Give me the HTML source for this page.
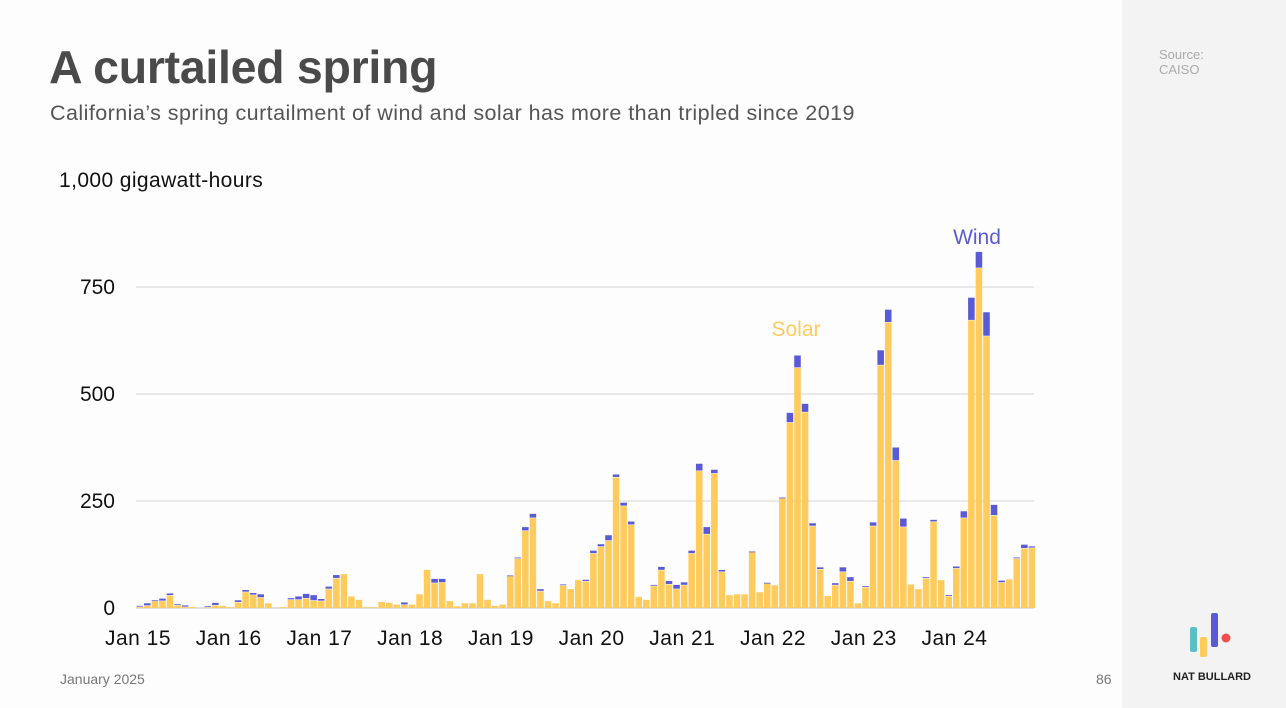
<!DOCTYPE html>
<html><head><meta charset="utf-8"><style>
body{margin:0;width:1286px;height:708px;background:#fdfdfd;font-family:"Liberation Sans",sans-serif;position:relative;overflow:hidden}
.a{position:absolute;white-space:nowrap}
</style></head><body>
<div class="a" style="left:1122px;top:0;width:164px;height:708px;background:#f3f3f3"></div>
<div class="a" style="left:49px;top:40px;font-size:46.5px;font-weight:bold;color:#4a4a4a;letter-spacing:-0.3px">A curtailed spring</div>
<div class="a" style="left:50px;top:101px;font-size:21.5px;letter-spacing:0.45px;color:#555">California’s spring curtailment of wind and solar has more than tripled since 2019</div>
<div class="a" style="left:59px;top:169px;font-size:21px;letter-spacing:0.4px;color:#111">1,000 gigawatt-hours</div>
<div class="a" style="left:1159px;top:47px;font-size:13px;color:#aaa;line-height:15px">Source:<br>CAISO</div>
<div class="a" style="left:60px;top:671px;font-size:14px;color:#777">January 2025</div>
<div class="a" style="left:1096px;top:671px;font-size:14px;color:#777">86</div>
<div class="a" style="left:1173px;top:671px;font-size:11px;font-weight:bold;color:#222">NAT BULLARD</div>
<svg class="a" style="left:1186px;top:610px" width="50" height="50">
<rect x="4" y="17" width="7" height="25" rx="2" fill="#5bc0c4"/><rect x="14" y="27" width="7" height="20" rx="2" fill="#ffcb5c"/><rect x="25" y="3" width="7" height="34" rx="2" fill="#5a5bd4"/><circle cx="40" cy="28" r="4.5" fill="#ef4f4f"/></svg>
<svg id="chart" class="a" style="left:0;top:0" width="1286" height="708"></svg>
<script>
const years=["Jan 15","Jan 16","Jan 17","Jan 18","Jan 19","Jan 20","Jan 21","Jan 22","Jan 23","Jan 24"];
const yTicks=[0,250,500,750];
const solar=[2,5,16,16,29,6,2,2,0,1,6,5,2,13,37,30,24,11,0,2,19,19,22,17,16,44,69,79,27,19,2,2,14,12,8,7,8,32,89,58,59,16,4,11,11,79,19,5,8,74,115,180,210,39,16,11,52,44,65,62,127,143,157,305,238,194,26,19,51,88,55,44,53,127,320,172,314,84,30,32,32,131,37,57,53,256,433,561,457,191,90,28,53,84,62,11,48,191,567,667,344,189,55,44,69,201,65,27,92,210,672,794,635,216,59,67,115,139,140];
const wind=[3,6,2,6,5,3,4,0,0,3,6,0,0,5,5,5,8,0,0,0,4,8,11,13,5,6,8,0,0,0,0,0,0,0,0,6,0,0,0,10,9,0,0,0,0,0,0,0,0,2,3,9,10,5,0,0,3,0,0,4,7,6,13,7,8,8,0,0,3,8,8,10,7,7,17,17,9,5,0,0,0,1,0,2,0,2,23,29,20,7,5,0,5,11,10,0,3,9,35,30,31,20,0,0,3,5,0,3,5,16,53,38,56,25,5,0,3,9,4];
const svg=document.getElementById('chart');const NS='http://www.w3.org/2000/svg';
const x0=136,x1=1034,bw=7.56,y0=608,k=107/250;
const X=i=>x0+i*bw, Y=v=>y0-v*k;
function mk(t,a){const e=document.createElementNS(NS,t);for(const q in a)e.setAttribute(q,a[q]);svg.appendChild(e);return e;}
yTicks.forEach(v=>{
 const l=mk('line',{x1:x0,x2:x1,y1:Y(v),y2:Y(v),stroke:v?'#dcdcdc':'#d0d0d0','stroke-width':1.2});
 
 
 const t=mk('text',{x:115,y:Y(v)+7,'text-anchor':'end','font-size':21,fill:'#111','font-family':'Liberation Sans, sans-serif'});t.textContent=v;
 
 
});
years.forEach((s,j)=>{
 const t=mk('text',{x:X(j*12)+2,y:645,'text-anchor':'middle','font-size':21,'letter-spacing':0.5,fill:'#111','font-family':'Liberation Sans, sans-serif'});t.textContent=s;
 
 
});
solar.forEach((s,i)=>{
 const w=wind[i];
 if(s>0){const r=mk('rect',{x:X(i)+0.5,y:Y(s),width:bw-1,height:s*k,fill:'#ffcb5c'});
 
 }
 if(w>0){const r=mk('rect',{x:X(i)+0.5,y:Y(s+w),width:bw-1,height:Math.max(w*k-0.5,0.8),fill:'#5a5bd4'});
 
 }
});
const ls=mk('text',{x:796,y:336,'text-anchor':'middle','font-size':21,fill:'#ffcb5c','font-family':'Liberation Sans, sans-serif'});ls.textContent='Solar';


const lw=mk('text',{x:977,y:244,'text-anchor':'middle','font-size':21,fill:'#5a5bd4','font-family':'Liberation Sans, sans-serif'});lw.textContent='Wind';


</script>
</body></html>
